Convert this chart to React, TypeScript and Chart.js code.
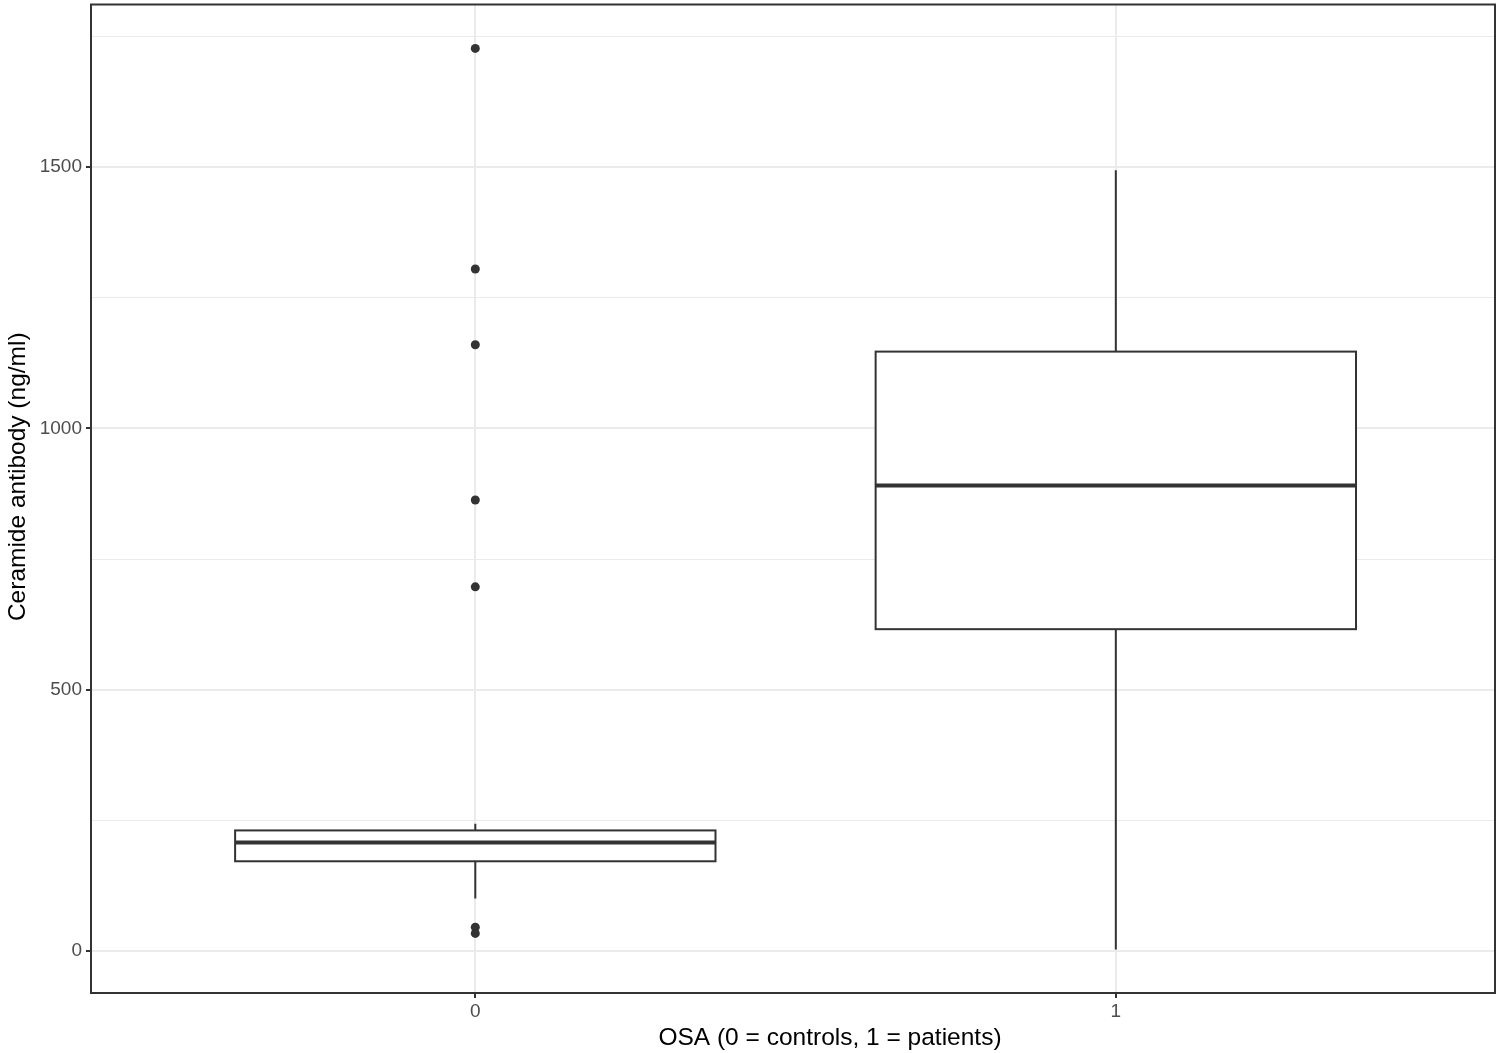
import React, { useEffect, useRef } from "react";
import { Chart, registerables } from "chart.js";

Chart.register(...registerables);

const categories = ["0", "1"];
const categoryPositions = [0, 1];
const whiskerLow = [101, 3];
const q1 = [172, 616];
const median = [208, 891];
const q3 = [231, 1147];
const whiskerHigh = [244, 1494];
const outliersGroup0 = [1727, 1305, 1160, 863, 697, 46, 34];
const outliersGroup1: number[] = [];
const yTicks = [0, 250, 500, 750, 1000, 1250, 1500, 1750];
const yLabelTicks = [0, 500, 1000, 1500];

const xTitle = "OSA (0 = controls, 1 = patients)";
const yTitle = "Ceramide antibody (ng/ml)";

const DARK = "#333333";
const GRID = "#EBEBEB";
const TICKTXT = "#4D4D4D";
const FONT = "'Liberation Sans', Arial, Helvetica, sans-serif";
const BOX_WIDTH = 0.75;
const TITLE_SIZE = 24.5;

const boxPlugin = {
  id: "boxes",
  beforeDatasetsDraw(chart: any) {
    const { ctx, scales } = chart;
    const xs = scales.x;
    const ys = scales.y;
    ctx.save();
    categoryPositions.forEach((pos, i) => {
      const cx = xs.getPixelForValue(pos);
      const left = xs.getPixelForValue(pos - BOX_WIDTH / 2);
      const right = xs.getPixelForValue(pos + BOX_WIDTH / 2);
      const yq1 = ys.getPixelForValue(q1[i]);
      const yq3 = ys.getPixelForValue(q3[i]);
      const ymed = ys.getPixelForValue(median[i]);
      const ylo = ys.getPixelForValue(whiskerLow[i]);
      const yhi = ys.getPixelForValue(whiskerHigh[i]);
      ctx.strokeStyle = DARK;
      ctx.lineWidth = 2;
      ctx.beginPath();
      ctx.moveTo(cx, yq3);
      ctx.lineTo(cx, yhi);
      ctx.moveTo(cx, yq1);
      ctx.lineTo(cx, ylo);
      ctx.stroke();
      ctx.fillStyle = "#FFFFFF";
      ctx.fillRect(left, yq3, right - left, yq1 - yq3);
      ctx.strokeRect(left, yq3, right - left, yq1 - yq3);
      ctx.lineWidth = 4;
      ctx.beginPath();
      ctx.moveTo(left, ymed);
      ctx.lineTo(right, ymed);
      ctx.stroke();
    });
    ctx.restore();
  },
  afterDraw(chart: any) {
    const { ctx, chartArea } = chart;
    ctx.save();
    ctx.strokeStyle = DARK;
    ctx.lineWidth = 2;
    ctx.strokeRect(
      chartArea.left,
      chartArea.top,
      chartArea.right - chartArea.left,
      chartArea.bottom - chartArea.top
    );
    // axis titles
    ctx.fillStyle = "#000000";
    ctx.font = `${TITLE_SIZE}px ${FONT}`;
    ctx.textAlign = "center";
    ctx.textBaseline = "alphabetic";
    const xc = (chartArea.left + chartArea.right) / 2 + 37;
    ctx.fillText(xTitle, xc, chartArea.bottom + 52);
    const yc = (chartArea.top + chartArea.bottom) / 2 - 22;
    ctx.translate(chartArea.left - 66, yc);
    ctx.rotate(-Math.PI / 2);
    ctx.fillText(yTitle, 0, 0);
    ctx.restore();
  },
};

export default function App() {
  const ref = useRef<HTMLCanvasElement | null>(null);
  useEffect(() => {
    if (!ref.current) return;
    const pts = [
      ...outliersGroup0.map((v) => ({ x: categoryPositions[0], y: v })),
      ...outliersGroup1.map((v) => ({ x: categoryPositions[1], y: v })),
    ];
    const chart = new Chart(ref.current, {
      type: "scatter",
      data: {
        datasets: [
          {
            data: pts,
            pointRadius: 4.5,
            pointHoverRadius: 4.5,
            backgroundColor: DARK,
            borderWidth: 0,
          },
        ],
      },
      options: {
        animation: false,
        responsive: true,
        maintainAspectRatio: false,
        devicePixelRatio: 1,
        events: [],
        layout: { padding: { top: 1, right: 7, left: 0, bottom: 0 } },
        plugins: { legend: { display: false }, tooltip: { enabled: false } },
        scales: {
          x: {
            type: "linear",
            min: -0.6,
            max: 1.592,
            afterBuildTicks: (s: any) => {
              s.ticks = categoryPositions.map((v) => ({ value: v }));
            },
            afterFit: (s: any) => {
              s.height = 60;
              s.paddingLeft = 0;
              s.paddingRight = 0;
            },
            ticks: {
              callback: (v: any) => {
                const i = categoryPositions.indexOf(Number(v));
                return i >= 0 ? categories[i] : "";
              },
              color: TICKTXT,
              font: { family: FONT, size: 19 },
              padding: 2,
              maxRotation: 0,
              autoSkip: false,
            },
            grid: {
              color: GRID,
              lineWidth: 2,
              tickLength: 5,
              tickColor: DARK,
              tickWidth: 2,
            },
            border: { display: false },
            title: { display: false },
          },
          y: {
            type: "linear",
            min: -80,
            max: 1811,
            afterBuildTicks: (s: any) => {
              s.ticks = yTicks.map((v) => ({ value: v }));
            },
            afterFit: (s: any) => {
              s.width = 91;
              s.paddingTop = 0;
              s.paddingBottom = 0;
            },
            ticks: {
              callback: (v: any) => (yLabelTicks.includes(Number(v)) ? String(v) : ""),
              color: TICKTXT,
              font: { family: FONT, size: 19 },
              padding: 4,
              autoSkip: false,
            },
            grid: {
              color: GRID,
              lineWidth: (c: any) => (yLabelTicks.includes(c.tick?.value) ? 2 : 1),
              tickLength: 5,
              tickColor: (c: any) => (yLabelTicks.includes(c.tick?.value) ? DARK : "rgba(0,0,0,0)"),
              tickWidth: 2,
            },
            border: { display: false },
            title: { display: false },
          },
        },
      },
      plugins: [boxPlugin],
    });
    return () => chart.destroy();
  }, []);
  return (
    <div style={{ position: "absolute", left: 0, top: 0, width: 1502, height: 1053, background: "#FFFFFF" }}>
      <canvas ref={ref} />
    </div>
  );
}
